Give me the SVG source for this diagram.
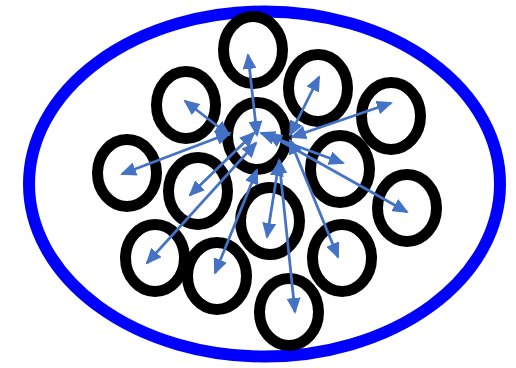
<svg xmlns="http://www.w3.org/2000/svg" width="516" height="368" viewBox="0 0 516 368">
<style>
.ring{fill:none;stroke:#000;stroke-width:11}
.outer{fill:none;stroke:#0000FF;stroke-width:12}
.arr{stroke:#4472C4;stroke-width:2.75;fill:none;marker-start:url(#h);marker-end:url(#h)}
</style>
<defs>
<marker id="h" viewBox="0 0 16 14" refX="14" refY="7" markerWidth="16" markerHeight="14" markerUnits="userSpaceOnUse" orient="auto-start-reverse">
<path d="M0,0 L16,7 L0,14 z" fill="#4472C4"/>
</marker>
</defs>
<rect width="516" height="368" fill="#fff"/>
<g id="container"><ellipse class="outer" cx="264.5" cy="184" rx="235.5" ry="172.5"/></g>
<g id="n1"><ellipse class="ring" cx="253" cy="50" rx="29.5" ry="33.5"/></g>
<g id="n2"><ellipse class="ring" cx="186" cy="105" rx="29.5" ry="33.5"/></g>
<g id="n3"><ellipse class="ring" cx="257" cy="136" rx="29.5" ry="33.5"/></g>
<g id="n4"><ellipse class="ring" cx="318" cy="88" rx="29.5" ry="33.5"/></g>
<g id="n5"><ellipse class="ring" cx="391" cy="116" rx="29.5" ry="33.5"/></g>
<g id="n6"><ellipse class="ring" cx="127" cy="173" rx="29.5" ry="33.5"/></g>
<g id="n7"><ellipse class="ring" cx="198" cy="191" rx="29.5" ry="33.5"/></g>
<g id="n8"><ellipse class="ring" cx="340" cy="169" rx="29.5" ry="33.5"/></g>
<g id="n9"><ellipse class="ring" cx="407" cy="208" rx="29.5" ry="33.5"/></g>
<g id="n10"><ellipse class="ring" cx="270" cy="221" rx="29.5" ry="33.5"/></g>
<g id="n11"><ellipse class="ring" cx="155" cy="258" rx="29.5" ry="33.5"/></g>
<g id="n12"><ellipse class="ring" cx="217" cy="276" rx="29.5" ry="33.5"/></g>
<g id="n13"><ellipse class="ring" cx="342" cy="258" rx="29.5" ry="33.5"/></g>
<g id="n14"><ellipse class="ring" cx="289" cy="312" rx="29.5" ry="33.5"/></g>
<g id="connectors">
<line class="arr" x1="248" y1="55" x2="257" y2="135"/>
<line class="arr" x1="185" y1="101" x2="229" y2="135"/>
<line class="arr" x1="319" y1="77" x2="290" y2="135"/>
<line class="arr" x1="391" y1="103" x2="292" y2="137"/>
<line class="arr" x1="122" y1="174" x2="230" y2="133"/>
<line class="arr" x1="190" y1="195" x2="254" y2="133"/>
<line class="arr" x1="147" y1="263" x2="256" y2="143"/>
<line class="arr" x1="215" y1="273" x2="257" y2="170"/>
<line class="arr" x1="267" y1="237" x2="279" y2="162"/>
<line class="arr" x1="295" y1="312" x2="279" y2="160"/>
<line class="arr" x1="343" y1="163" x2="261" y2="133"/>
<line class="arr" x1="407" y1="212" x2="268" y2="134"/>
<line class="arr" x1="338" y1="257" x2="290" y2="140"/>
</g>
</svg>
